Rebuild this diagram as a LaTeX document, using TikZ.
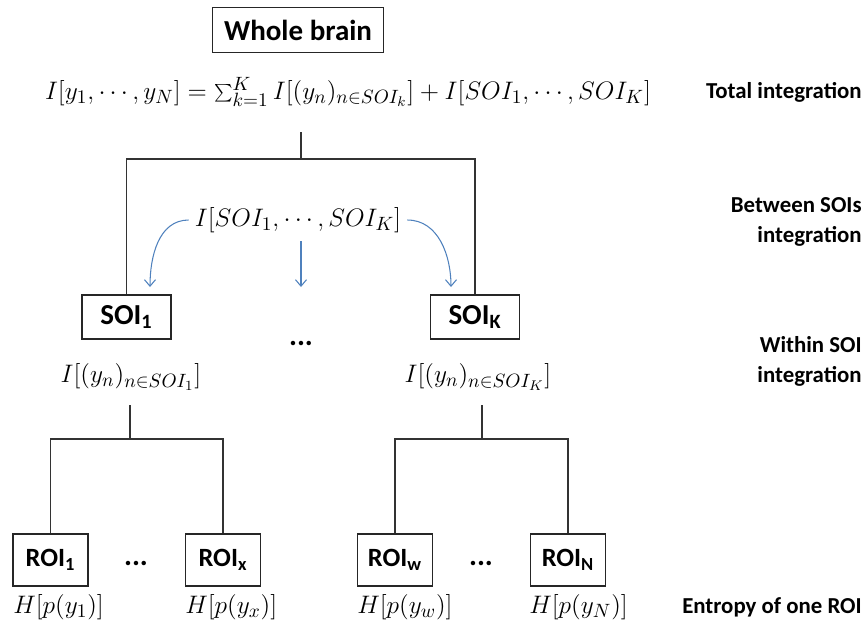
\documentclass[tikz,border=0pt]{standalone}
\usepackage{fontspec}
\newfontfamily\labelfont{Carlito}
\usepackage{tikz}
\usetikzlibrary{arrows.meta}
\definecolor{arrowblue}{RGB}{79,129,189}
\tikzset{
  box/.style={draw=black!85, line width=0.7pt, inner sep=0pt,
    font=\labelfont\bfseries\fontsize{15}{18}\selectfont},
  roibox/.style={box, minimum width=1.5cm, minimum height=1.04cm},
  soibox/.style={box, minimum width=1.78cm, minimum height=0.88cm,
    font=\labelfont\bfseries\fontsize{16.5}{19}\selectfont},
  side/.style={anchor=east, align=right, inner sep=0pt,
    font=\labelfont\bfseries\fontsize{13}{17}\selectfont},
  eq/.style={font=\fontsize{15.5}{18}\selectfont},
  ent/.style={anchor=west, inner sep=0pt, font=\fontsize{15}{17}\selectfont},
  tree/.style={draw=black!80, line width=0.9pt},
  pick/.style={draw=arrowblue, line width=0.6pt,
    -{Straight Barb[length=0.13cm,width=0.22cm]}},
  dots/.style={font=\labelfont\bfseries\fontsize{17}{20}\selectfont}
}

\begin{document}
\begin{tikzpicture}[x=0.02cm, y=0.02cm]
    \useasboundingbox (0,0) rectangle (865,-626);
    % whole brain
    \node[box, minimum width=3.42cm, minimum height=0.9cm,
      font=\labelfont\bfseries\fontsize{16.5}{19}\selectfont] (whole) at (298,-30) {Whole brain};
    \node[eq] (total) at (348,-92) {$I[y_1,\cdots,y_N]=\sum_{k=1}^K I[(y_n)_{n\in SOI_k}]+I[SOI_1,\cdots,SOI_K]$};
    \node[side] (totlab) at (862,-92) {Total integration};
    % SOI level
    \coordinate (top) at (301,-132);
    \coordinate (split) at (301,-159);
    \node[soibox] (soi1) at (126.5,-317) {SOI\textsubscript{1}};
    \node[soibox] (soik) at (475,-317) {SOI\textsubscript{K}};
    \node[dots] (sdots) at (301,-343) {...};
    \draw[tree] (top) -- (split);
    \draw[tree] (soi1.north) |- (split) -| (soik.north);
    \node[eq] (betw) at (298,-220) {$I[SOI_1,\cdots,SOI_K]$};
    \coordinate (ltip) at (150,-287);
    \coordinate (mfoot) at (301,-241);
    \coordinate (mtip) at (301,-287);
    \coordinate (rtip) at (451,-287);
    \draw[pick] (betw.west) to[out=180,in=90] (ltip);
    \draw[pick] (mfoot) -- (mtip);
    \draw[pick] (betw.east) to[out=0,in=90] (rtip);
    \node[side] (betlab) at (862,-222) {Between SOIs\\integration};
    \node[eq] (isoi1) at (131,-377) {$I[(y_n)_{n\in SOI_1}]$};
    \node[eq] (isoik) at (478,-377) {$I[(y_n)_{n\in SOI_K}]$};
    \node[side] (withlab) at (862,-361) {Within SOI\\integration};
    % ROI level
    \node[roibox] (roi1) at (50.5,-560) {ROI\textsubscript{1}};
    \node[roibox] (roix) at (223,-560) {ROI\textsubscript{x}};
    \node[roibox] (roiw) at (395,-560) {ROI\textsubscript{w}};
    \node[roibox] (roin) at (568,-560) {ROI\textsubscript{N}};
    \node[dots] (ldots) at (136,-563) {...};
    \node[dots] (rdots) at (481,-563) {...};
    \coordinate (ltop) at (130,-405);
    \coordinate (lsplit) at (130,-439);
    \coordinate (rtop) at (482,-405);
    \coordinate (rsplit) at (482,-439);
    \draw[tree] (ltop) -- (lsplit);
    \draw[tree] (roi1.north) |- (lsplit) -| (roix.north);
    \draw[tree] (rtop) -- (rsplit);
    \draw[tree] (roiw.north) |- (rsplit) -| (roin.north);
    \node[ent] (h1) at (13,-607) {$H[p(y_1)]$};
    \node[ent] (hx) at (185,-607) {$H[p(y_x)]$};
    \node[ent] (hw) at (357,-607) {$H[p(y_w)]$};
    \node[ent] (hn) at (529,-607) {$H[p(y_N)]$};
    \node[side] (entlab) at (862,-607) {Entropy of one ROI};
\end{tikzpicture}
\end{document}
